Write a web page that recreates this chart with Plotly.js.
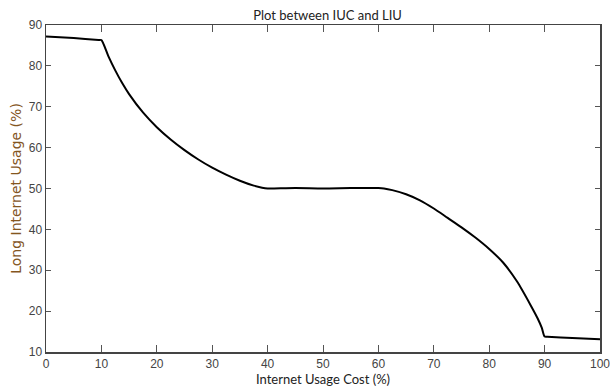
<!DOCTYPE html>
<html>
<head>
<meta charset="utf-8">
<script src="https://cdn.plot.ly/plotly-3.0.1.min.js"></script>
<style>
  html, body { margin: 0; padding: 0; background: #ffffff; }
  #chart { width: 610px; height: 390px; }
</style>
</head>
<body>
<div id="chart"></div>
<script>
// Internet usage cost (%) against long internet usage (%)
const usageCost = [0, 5, 9.5, 10, 11.25, 12.5, 13.75, 15, 17.5, 20, 22.5, 25, 27.5, 30, 32.5, 35, 37.5, 39, 40,
                   41, 45, 50, 55, 59, 60,
                   61, 62.5, 65, 67.5, 70, 72.5, 75, 77.5, 80, 82.5, 85, 87.5, 88.75, 89.5, 90,
                   90.5, 95, 100];
const longUsage = [87.2, 86.8, 86.35, 86.3, 82.4, 78.9, 75.8, 73.1, 68.6, 65.0, 62.0, 59.4, 57.1, 55.1, 53.4, 51.9, 50.7, 50.2, 50.0,
                   50.0, 50.1, 50.0, 50.1, 50.1, 50.1,
                   50.0, 49.6, 48.6, 47.1, 45.1, 42.8, 40.5, 38.0, 35.2, 31.9, 27.3, 21.4, 18.2, 15.9, 13.8,
                   13.75, 13.4, 13.1];
const xTicks = [0, 10, 20, 30, 40, 50, 60, 70, 80, 90, 100];
const yTicks = [10, 20, 30, 40, 50, 60, 70, 80, 90];

const tickFont = { family: 'Liberation Sans Narrow, Liberation Sans, Arial', size: 12, color: '#444444' };
const labelFont = { family: 'Lato, Open Sans, sans-serif', size: 13, color: '#222222' };

const trace = {
  x: usageCost,
  y: longUsage,
  type: 'scatter',
  mode: 'lines',
  line: { color: '#000000', width: 2, shape: 'spline', smoothing: 0.7 },
  hoverinfo: 'skip'
};

const layout = {
  width: 610,
  height: 390,
  margin: { l: 46, r: 10, t: 25, b: 38 },
  paper_bgcolor: '#ffffff',
  plot_bgcolor: '#ffffff',
  showlegend: false,
  title: {
    text: 'Plot between IUC and LIU',
    font: labelFont,
    x: 0.537, xanchor: 'center',
    y: 0.961, yanchor: 'middle'
  },
  xaxis: {
    range: [0, 100],
    tickvals: xTicks,
    ticktext: xTicks.map(String),
    ticks: 'inside',
    ticklen: 7,
    tickcolor: '#555555',
    tickwidth: 1,
    showline: true,
    linecolor: '#444444',
    linewidth: 1.5,
    mirror: 'ticks',
    showgrid: false,
    zeroline: false,
    tickfont: tickFont,
    ticklabeloverflow: 'allow',
    title: {
      text: 'Internet Usage Cost (%)',
      font: labelFont,
      standoff: 4
    }
  },
  yaxis: {
    range: [10, 90],
    tickvals: yTicks,
    ticktext: yTicks.map(String),
    ticks: 'inside',
    ticklen: 5,
    tickcolor: '#555555',
    tickwidth: 1,
    showline: true,
    linecolor: '#444444',
    linewidth: 1.5,
    mirror: 'ticks',
    showgrid: false,
    zeroline: false,
    tickfont: tickFont,
    title: {
      text: 'Long Internet Usage (%)',
      font: { family: 'DejaVu Sans, Verdana, sans-serif', size: 14, color: '#84561f' },
      standoff: 4
    }
  }
};

Plotly.newPlot('chart', [trace], layout, { displayModeBar: false, staticPlot: true });
</script>
</body>
</html>
